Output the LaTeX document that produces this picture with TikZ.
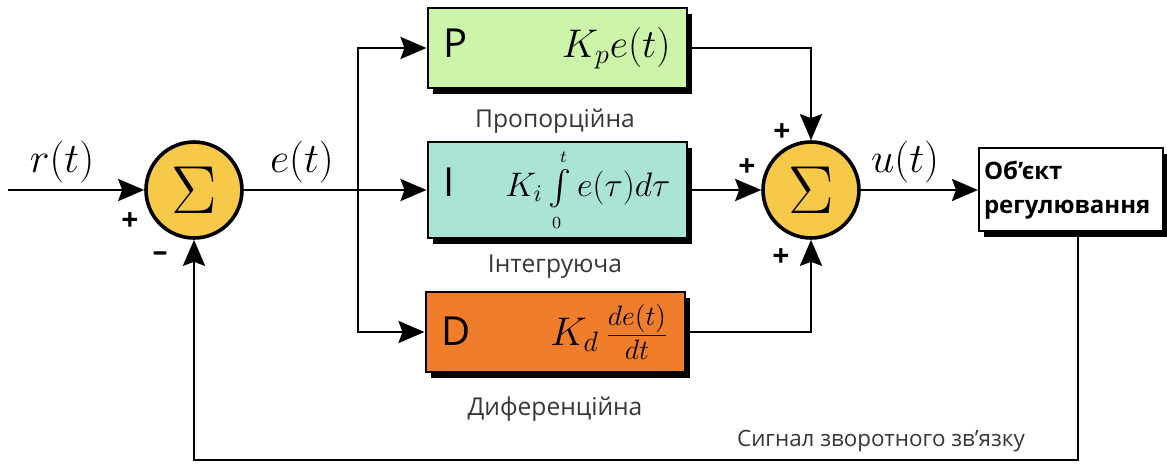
\RequirePackage{fix-cm}
\documentclass[tikz,border=0pt]{standalone}
\usepackage{amsmath}
\usepackage{fontspec}
\setmainfont{Open Sans}
\usepackage{xcolor}
\usetikzlibrary{arrows.meta,positioning,shadows}

\definecolor{pgreen}{RGB}{205,245,170}
\definecolor{icyan}{RGB}{170,228,214}
\definecolor{dorange}{RGB}{240,125,42}
\definecolor{syellow}{RGB}{247,201,72}
\definecolor{capgray}{RGB}{55,55,55}

\begin{document}
\begin{tikzpicture}[
x=0.5pt, y=-0.5pt,
blk/.style={draw, line width=1pt, minimum width=129.5pt, minimum height=40pt, inner xsep=8pt, text width=113.5pt,
  drop shadow={shadow xshift=2.5pt, shadow yshift=-3pt, fill=black, opacity=1}},
summ/.style={circle, draw, line width=1.8pt, fill=syellow, minimum size=48pt, inner sep=0pt, font=\fontsize{34}{36}\selectfont},
caption/.style={text=capgray, font=\fontsize{12.3}{14}\selectfont},
sgn/.style={font=\bfseries\fontsize{15}{17}\selectfont},
sig/.style={font=\fontsize{21}{24}\selectfont},
arr/.style={-{Stealth[length=13pt,width=11pt,inset=2pt]}, line width=1.4pt}
]
\useasboundingbox (0,0) rectangle (1167,464);

% summing junctions
\node[summ] (s1) at (194,190) {$\Sigma$};
\node[summ] (s2) at (811,190) {$\Sigma$};

% P, I, D blocks
\node[blk, fill=pgreen] (pbox) at (557,48) {\fontsize{20}{22}\selectfont P\hfill\fontsize{20}{22}\selectfont$K_p e(t)$};
\node[blk, fill=icyan] (ibox) at (557,190) {\fontsize{20}{22}\selectfont I\hfill\fontsize{17}{20}\selectfont$K_i\int\limits_{\scriptscriptstyle 0}^{\scriptscriptstyle t} e(\tau)d\tau$};
\node[blk, fill=dorange] (dbox) at (555,332) {\fontsize{20}{22}\selectfont D\hfill\fontsize{20}{22}\selectfont$K_d\,\frac{de(t)}{dt}$};

\node[caption] (pcap) at (555,121) {Пропорційна};
\node[caption] (icap) at (555,267) {Інтегруюча};
\node[caption] (dcap) at (555,409) {Диференційна};

% plant
\node[draw, line width=1pt, fill=white, minimum width=92pt, minimum height=41.5pt, inner xsep=2.5pt, text width=87pt, align=left,
  font=\bfseries\fontsize{12}{17}\selectfont,
  drop shadow={shadow xshift=2.5pt, shadow yshift=-3pt, fill=black, opacity=1}] (obj) at (1071,190) {Об’єкт\\регулювання};

% signal labels
\node[sig] (rlab) at (62,162) {$r(t)$};
\node[sig] (elab) at (302,162) {$e(t)$};
\node[sig] (ulab) at (905,162) {$u(t)$};
\node[sgn] (plus1) at (130,222) {+};
\node[sgn] (minus1) at (160,257) {–};
\node[sgn] (plus2) at (782,133) {+};
\node[sgn] (plus3) at (747,168) {+};
\node[sgn] (plus4) at (781,258) {+};
\node[caption, font=\fontsize{11.2}{13}\selectfont] (fblab) at (881,441) {Сигнал зворотного зв’язку};

\coordinate (in) at (8,190);
\coordinate (br) at (358,190);
\coordinate (fb) at (1078,460);

% connectors
\draw[arr] (in) -- (s1);
\draw[arr] (s1) -- (ibox);
\draw[arr] (br) |- (pbox);
\draw[arr] (br) |- (dbox);
\draw[arr] (pbox) -| (s2);
\draw[arr] (ibox) -- (s2);
\draw[arr] (dbox) -| (s2);
\draw[arr] (s2) -- (obj);
\draw[arr] (obj.south -| fb) -- (fb) -| (s1);
\end{tikzpicture}
\end{document}
